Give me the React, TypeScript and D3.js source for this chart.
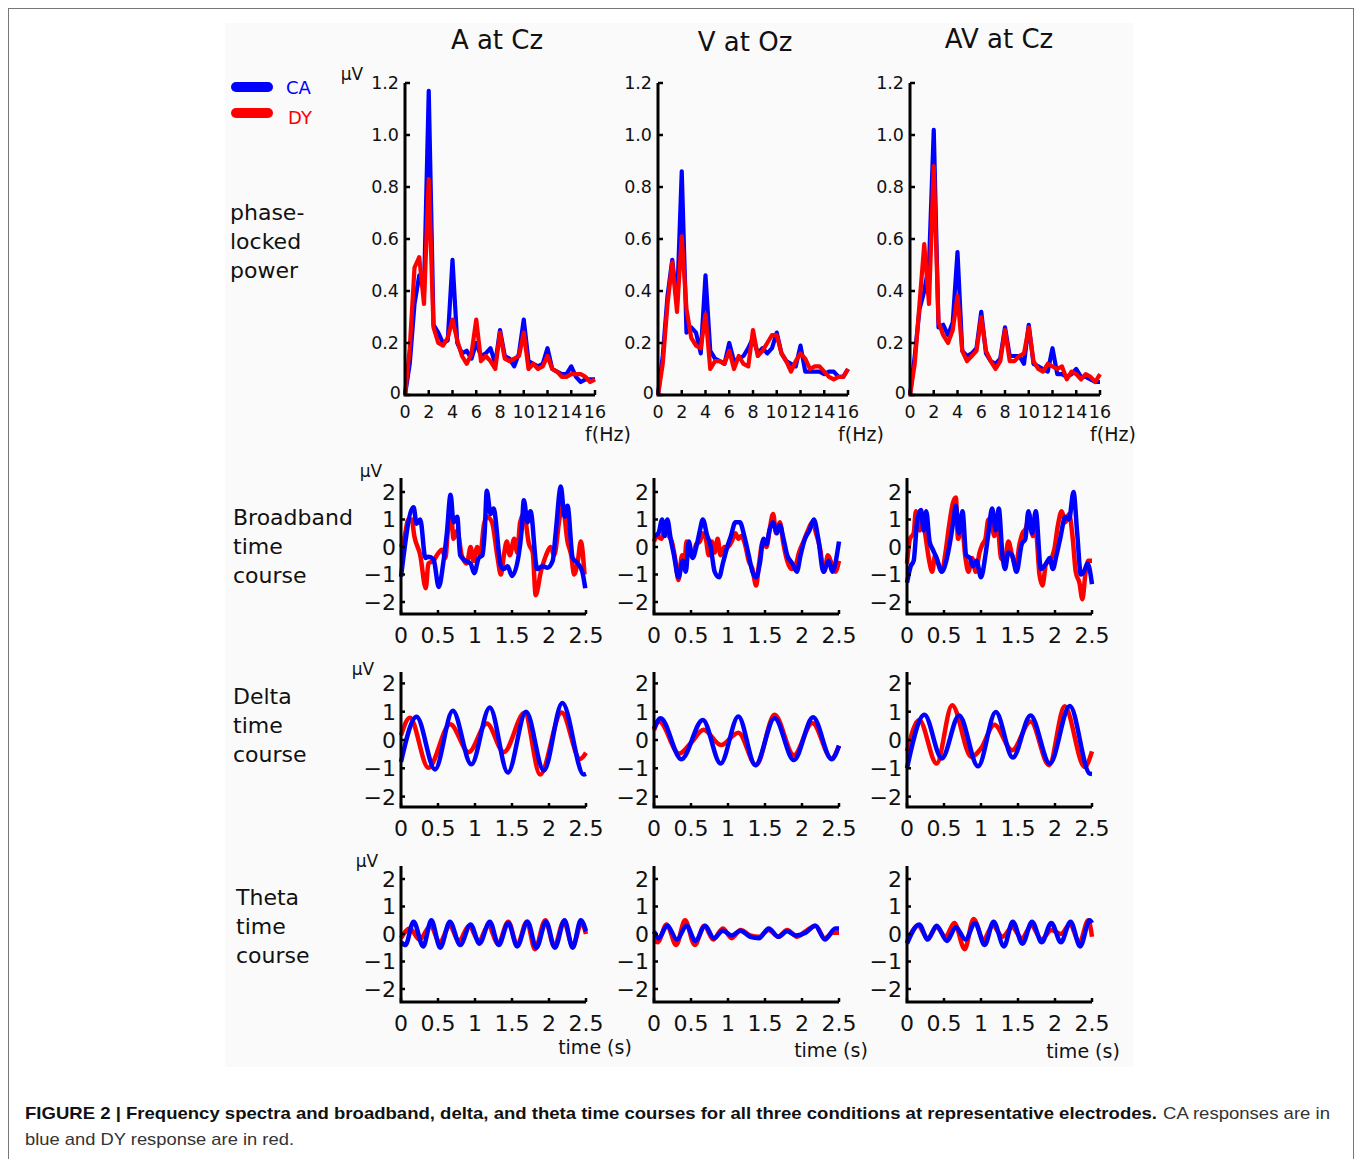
import React from "react";
import * as d3 from "d3";

// ---------- DATA ----------
const CONDITIONS = ["A at Cz", "V at Oz", "AV at Cz"];
const ROW_LABELS = [
  ["phase-", "locked", "power"],
  ["Broadband", "time", "course"],
  ["Delta", "time", "course"],
  ["Theta", "time", "course"],
];

const FREQ = [0, 0.4, 0.8, 1.2, 1.6, 2, 2.4, 2.8, 3.2, 3.6, 4, 4.4, 4.8, 5.2, 5.6, 6, 6.4, 6.8, 7.2, 7.6, 8, 8.4, 8.8, 9.2, 9.6, 10, 10.4, 10.8, 11.2, 11.6, 12, 12.4, 12.8, 13.2, 13.6, 14, 14.4, 14.8, 15.2, 15.6, 16];

const SPEC_A_CA = [0, 0.12, 0.35, 0.46, 0.4, 1.17, 0.27, 0.24, 0.2, 0.21, 0.52, 0.2, 0.16, 0.17, 0.14, 0.2, 0.15, 0.16, 0.18, 0.12, 0.25, 0.15, 0.14, 0.11, 0.16, 0.29, 0.13, 0.12, 0.11, 0.12, 0.18, 0.1, 0.09, 0.08, 0.08, 0.11, 0.07, 0.05, 0.06, 0.06, 0.06];
const SPEC_A_DY = [0, 0.18, 0.49, 0.53, 0.35, 0.83, 0.26, 0.2, 0.19, 0.22, 0.29, 0.21, 0.15, 0.12, 0.16, 0.29, 0.13, 0.15, 0.13, 0.1, 0.24, 0.14, 0.13, 0.14, 0.15, 0.24, 0.1, 0.12, 0.1, 0.11, 0.15, 0.1, 0.09, 0.07, 0.07, 0.08, 0.08, 0.08, 0.07, 0.05, 0.06];
const SPEC_V_CA = [0, 0.15, 0.38, 0.52, 0.35, 0.86, 0.24, 0.26, 0.24, 0.16, 0.46, 0.17, 0.14, 0.13, 0.12, 0.2, 0.13, 0.14, 0.15, 0.18, 0.22, 0.16, 0.18, 0.16, 0.18, 0.24, 0.16, 0.13, 0.12, 0.11, 0.19, 0.09, 0.09, 0.09, 0.09, 0.08, 0.09, 0.09, 0.07, 0.07, 0.1];
const SPEC_V_DY = [0, 0.12, 0.35, 0.51, 0.32, 0.61, 0.33, 0.22, 0.19, 0.18, 0.31, 0.1, 0.13, 0.13, 0.12, 0.17, 0.1, 0.15, 0.12, 0.11, 0.25, 0.15, 0.17, 0.2, 0.23, 0.23, 0.16, 0.13, 0.09, 0.13, 0.16, 0.14, 0.1, 0.11, 0.11, 0.09, 0.07, 0.06, 0.07, 0.07, 0.1];
const SPEC_AV_CA = [0, 0.15, 0.33, 0.4, 0.5, 1.02, 0.26, 0.27, 0.23, 0.28, 0.55, 0.17, 0.15, 0.16, 0.18, 0.32, 0.16, 0.13, 0.12, 0.14, 0.26, 0.15, 0.15, 0.15, 0.12, 0.27, 0.12, 0.11, 0.1, 0.09, 0.18, 0.08, 0.08, 0.07, 0.08, 0.1, 0.07, 0.07, 0.06, 0.05, 0.05];
const SPEC_AV_DY = [0, 0.12, 0.35, 0.58, 0.35, 0.88, 0.28, 0.23, 0.2, 0.25, 0.38, 0.17, 0.13, 0.15, 0.17, 0.3, 0.17, 0.13, 0.1, 0.13, 0.25, 0.13, 0.13, 0.15, 0.16, 0.26, 0.13, 0.1, 0.09, 0.12, 0.11, 0.1, 0.11, 0.06, 0.09, 0.08, 0.06, 0.08, 0.07, 0.05, 0.08];

// time courses: [time (s), µV]
const BROAD_A_CA = [[0, -1.08], [0.17, 1.45], [0.21, 0.85], [0.26, 1.0], [0.33, -0.4], [0.37, -0.35], [0.44, -0.45], [0.51, -1.45], [0.575, -0.5], [0.62, 0.5], [0.67, 1.9], [0.71, 0.9], [0.76, 1.1], [0.8, -0.3], [0.87, -0.5], [0.94, -0.6], [0.99, -0.95], [1.05, -0.4], [1.1, -0.3], [1.13, 0.5], [1.16, 2.05], [1.21, 1.2], [1.25, 1.4], [1.35, -0.7], [1.39, -0.8], [1.44, -0.7], [1.5, -1.05], [1.59, -0.3], [1.63, 0.6], [1.66, 1.7], [1.71, 0.9], [1.75, 1.3], [1.84, -0.8], [1.91, -0.7], [1.98, -0.75], [2.05, -0.5], [2.09, 0.5], [2.16, 2.2], [2.21, 1.1], [2.25, 1.5], [2.32, -0.4], [2.39, -0.6], [2.45, -0.9], [2.49, -1.5]];
const BROAD_A_DY = [[0, 0], [0.05, 0.4], [0.1, 1.0], [0.145, 1.0], [0.18, 0.4], [0.26, -0.3], [0.335, -1.5], [0.37, -0.6], [0.44, -0.5], [0.485, -0.3], [0.555, -0.1], [0.6, -0.4], [0.63, 0.5], [0.67, 1.5], [0.71, 0.3], [0.76, 0.6], [0.82, -0.3], [0.89, -0.6], [0.94, 0], [0.98, -0.5], [1.03, 0], [1.07, -0.3], [1.12, 0.8], [1.16, 1.1], [1.23, 0.9], [1.3, -0.3], [1.35, -1.0], [1.39, -0.3], [1.43, 0.2], [1.47, -0.3], [1.53, 0.3], [1.57, -0.2], [1.61, 0.9], [1.66, 1.2], [1.73, 0.1], [1.78, -0.2], [1.82, -1.75], [1.89, -0.9], [1.96, -0.3], [2.02, 0], [2.07, -0.3], [2.14, 1.0], [2.18, 1.6], [2.25, 0.2], [2.3, -0.3], [2.34, -1.0], [2.39, -0.5], [2.43, 0.2], [2.48, -1.0]];
const BROAD_V_CA = [[0, 0.4], [0.06, 0.5], [0.11, 1.0], [0.145, 0.4], [0.18, 1.0], [0.225, 0.3], [0.27, -0.3], [0.33, -1.1], [0.39, -0.5], [0.43, -0.9], [0.47, 0.2], [0.52, -0.4], [0.58, 0.1], [0.62, 0.6], [0.66, 1.0], [0.72, 0.4], [0.76, 0.1], [0.82, -0.9], [0.88, -1.1], [0.93, -0.6], [0.99, 0], [1.04, 0.4], [1.1, 0.9], [1.16, 0.9], [1.22, 0.4], [1.28, -0.3], [1.33, -0.9], [1.38, -1.1], [1.43, -0.6], [1.48, 0.3], [1.52, 0.1], [1.56, 0.6], [1.61, 0.9], [1.66, 0.5], [1.7, 0.8], [1.75, 0.3], [1.8, -0.3], [1.87, -0.6], [1.93, -0.9], [1.98, -0.3], [2.04, 0.3], [2.1, 0.6], [2.16, 1.0], [2.22, 0.3], [2.29, -0.9], [2.36, -0.5], [2.41, -0.9], [2.45, -0.6], [2.5, 0.2]];
const BROAD_V_DY = [[0, 0.2], [0.04, 0.4], [0.1, 0.3], [0.14, 0.6], [0.2, 0.4], [0.24, 0.2], [0.29, -0.5], [0.33, -1.2], [0.38, -0.3], [0.41, -0.6], [0.44, 0.2], [0.48, -0.1], [0.53, -0.2], [0.57, 0.1], [0.62, 0.2], [0.66, 0.5], [0.7, 0.3], [0.74, -0.3], [0.78, 0.2], [0.82, -0.2], [0.86, 0.3], [0.9, -0.3], [0.95, 0], [1.0, 0], [1.05, 0.2], [1.1, 0.5], [1.14, 0.3], [1.18, 0.4], [1.23, 0.1], [1.28, -0.5], [1.33, -0.8], [1.38, -1.4], [1.42, -0.6], [1.47, 0.2], [1.52, 0], [1.56, 0.6], [1.61, 1.2], [1.65, 0.5], [1.7, 0.9], [1.75, 0.1], [1.8, -0.5], [1.86, -0.8], [1.91, -0.7], [1.96, -0.2], [2.02, 0.2], [2.08, 0.6], [2.14, 0.9], [2.19, 0.5], [2.24, 0], [2.3, -0.9], [2.35, -0.3], [2.4, -0.6], [2.45, -0.9], [2.5, -0.5]];
const BROAD_AV_CA = [[0, -1.3], [0.05, -0.7], [0.09, -0.5], [0.14, 1.0], [0.19, 1.35], [0.225, 0.6], [0.26, 1.3], [0.305, 0.2], [0.35, -0.1], [0.4, -0.4], [0.47, -0.9], [0.54, -0.4], [0.59, 0.3], [0.63, 1.0], [0.66, 1.5], [0.7, 0.5], [0.75, 1.3], [0.8, -0.3], [0.85, -0.4], [0.89, -0.7], [0.94, -0.5], [1.0, -1.1], [1.06, -0.3], [1.1, 0.5], [1.15, 1.4], [1.2, 0.6], [1.24, 1.4], [1.29, -0.3], [1.325, -0.8], [1.37, -0.2], [1.42, -0.3], [1.48, -0.9], [1.55, 0.1], [1.6, 0.3], [1.64, 1.3], [1.69, 0.5], [1.74, 1.3], [1.81, -0.8], [1.88, -0.6], [1.93, -0.4], [1.97, -0.8], [2.02, -0.3], [2.07, 0.3], [2.14, 1.1], [2.19, 1.0], [2.25, 2.0], [2.3, 0.5], [2.35, -1.0], [2.39, -0.9], [2.44, -0.6], [2.5, -1.35]];
const BROAD_AV_DY = [[0, -0.6], [0.04, 0.3], [0.09, 0.5], [0.12, 1.3], [0.17, 0.6], [0.21, 1.1], [0.25, 0.4], [0.3, -0.5], [0.34, -0.9], [0.38, -0.3], [0.42, -0.6], [0.47, -0.9], [0.52, -0.2], [0.57, 0.8], [0.62, 1.6], [0.66, 1.8], [0.69, 0.3], [0.74, 0.8], [0.79, -0.4], [0.83, -0.9], [0.88, -0.4], [0.93, -0.9], [0.98, -0.2], [1.02, 0.1], [1.06, 0.3], [1.1, 1.0], [1.14, 0.9], [1.18, 0.4], [1.22, 0.9], [1.27, -0.4], [1.32, -0.5], [1.37, 0.2], [1.42, -0.3], [1.47, -0.7], [1.52, 0.1], [1.56, 0.5], [1.61, 0.7], [1.65, 1.2], [1.7, 0.4], [1.74, 0.6], [1.79, -1.0], [1.83, -1.4], [1.88, -0.6], [1.93, -0.5], [1.99, -0.1], [2.04, 0.8], [2.09, 1.3], [2.14, 0.9], [2.19, 1.2], [2.24, 0.3], [2.28, -0.9], [2.33, -1.3], [2.37, -1.9], [2.41, -1.0], [2.45, -0.5], [2.5, -0.5]];

const DELTA_A_CA = [[0, -0.78], [0.21, 0.82], [0.46, -1.04], [0.7, 1.03], [0.95, -0.86], [1.2, 1.15], [1.445, -1.15], [1.69, 1.0], [1.93, -1.08], [2.18, 1.31], [2.47, -1.22], [2.5, -1.2]];
const DELTA_A_DY = [[0, 0.17], [0.12, 0.79], [0.37, -0.98], [0.665, 0.56], [0.915, -0.43], [1.16, 0.58], [1.39, -0.43], [1.67, 0.96], [1.88, -1.22], [2.17, 0.97], [2.42, -0.67], [2.5, -0.45]];
const DELTA_V_CA = [[0, 0.4], [0.09, 0.77], [0.37, -0.68], [0.66, 0.71], [0.9, -0.83], [1.14, 0.83], [1.37, -0.89], [1.63, 0.77], [1.89, -0.71], [2.15, 0.8], [2.4, -0.68], [2.5, -0.2]];
const DELTA_V_DY = [[0, 0.35], [0.07, 0.65], [0.34, -0.48], [0.5, -0.1], [0.67, 0.36], [0.905, -0.18], [1.14, 0.26], [1.38, -0.89], [1.63, 0.89], [1.89, -0.54], [2.14, 0.6], [2.4, -0.65], [2.5, -0.2]];
const DELTA_AV_CA = [[0, -1.0], [0.235, 0.89], [0.47, -0.65], [0.705, 0.87], [0.96, -0.93], [1.2, 0.99], [1.43, -0.62], [1.67, 0.87], [1.93, -0.83], [2.2, 1.2], [2.47, -1.19], [2.5, -1.2]];
const DELTA_AV_DY = [[0, -0.4], [0.165, 0.71], [0.4, -0.83], [0.61, 1.23], [0.87, -0.6], [1.0, -0.3], [1.18, 0.54], [1.42, -0.36], [1.67, 0.65], [1.92, -0.89], [2.13, 1.19], [2.4, -0.95], [2.5, -0.4]];

const THETA_A_CA = [[0, -0.3], [0.06, -0.4], [0.17, 0.45], [0.3, -0.45], [0.41, 0.5], [0.53, -0.5], [0.66, 0.45], [0.8, -0.4], [0.94, 0.35], [1.06, -0.35], [1.2, 0.45], [1.32, -0.4], [1.45, 0.4], [1.57, -0.45], [1.71, 0.45], [1.83, -0.5], [1.96, 0.45], [2.08, -0.5], [2.21, 0.5], [2.32, -0.5], [2.43, 0.5], [2.5, 0.1]];
const THETA_A_DY = [[0, -0.15], [0.12, 0.2], [0.25, -0.2], [0.4, 0.3], [0.52, -0.3], [0.66, 0.3], [0.78, -0.25], [0.92, 0.3], [1.05, -0.25], [1.18, 0.3], [1.31, -0.35], [1.45, 0.45], [1.57, -0.4], [1.7, 0.45], [1.81, -0.55], [1.95, 0.5], [2.07, -0.45], [2.2, 0.45], [2.32, -0.45], [2.44, 0.4], [2.5, 0.0]];
const THETA_V_CA = [[0, 0.1], [0.06, -0.15], [0.18, 0.3], [0.31, -0.2], [0.44, 0.3], [0.56, -0.25], [0.69, 0.3], [0.81, -0.15], [0.93, 0.12], [1.05, -0.05], [1.17, 0.12], [1.3, -0.1], [1.42, -0.15], [1.55, 0.2], [1.68, -0.1], [1.8, 0.1], [1.92, -0.05], [2.05, 0.05], [2.18, 0.3], [2.31, -0.2], [2.45, 0.2], [2.5, 0.2]];
const THETA_V_DY = [[0, -0.2], [0.05, -0.3], [0.17, 0.35], [0.3, -0.4], [0.42, 0.5], [0.55, -0.4], [0.68, 0.3], [0.8, -0.2], [0.93, 0.2], [1.05, -0.15], [1.17, 0.15], [1.3, -0.05], [1.42, -0.1], [1.55, 0.15], [1.68, -0.1], [1.8, 0.15], [1.93, -0.1], [2.05, 0.1], [2.18, 0.3], [2.31, -0.15], [2.42, 0.05], [2.5, 0.05]];
const THETA_AV_CA = [[0, -0.35], [0.165, 0.35], [0.28, -0.2], [0.4, 0.3], [0.54, -0.25], [0.66, 0.25], [0.79, -0.2], [0.92, 0.4], [1.05, -0.4], [1.17, 0.45], [1.31, -0.45], [1.43, 0.45], [1.56, -0.35], [1.69, 0.45], [1.82, -0.3], [1.95, 0.4], [2.08, -0.3], [2.21, 0.45], [2.34, -0.45], [2.47, 0.5], [2.5, 0.4]];
const THETA_AV_DY = [[0, -0.3], [0.15, 0.3], [0.28, -0.15], [0.4, 0.25], [0.52, -0.1], [0.64, 0.4], [0.78, -0.55], [0.9, 0.55], [1.03, -0.2], [1.16, 0.3], [1.29, -0.1], [1.42, 0.25], [1.55, -0.15], [1.68, 0.3], [1.82, -0.2], [1.95, 0.15], [2.08, 0.0], [2.2, 0.35], [2.33, -0.3], [2.45, 0.5], [2.5, -0.1]];

const SPEC_Y_TICKS = [0, 0.2, 0.4, 0.6, 0.8, 1.0, 1.2];
const SPEC_Y_LABELS = ["0", "0.2", "0.4", "0.6", "0.8", "1.0", "1.2"];
const SPEC_X_TICKS = [0, 2, 4, 6, 8, 10, 12, 14, 16];
const TIME_X_TICKS = [0, 0.5, 1, 1.5, 2, 2.5];
const TIME_Y_TICKS = [-2, -1, 0, 1, 2];

const SPEC = [
  { ca: SPEC_A_CA, dy: SPEC_A_DY },
  { ca: SPEC_V_CA, dy: SPEC_V_DY },
  { ca: SPEC_AV_CA, dy: SPEC_AV_DY },
];
const TIME_ROWS = [
  [{ ca: BROAD_A_CA, dy: BROAD_A_DY }, { ca: BROAD_V_CA, dy: BROAD_V_DY }, { ca: BROAD_AV_CA, dy: BROAD_AV_DY }],
  [{ ca: DELTA_A_CA, dy: DELTA_A_DY }, { ca: DELTA_V_CA, dy: DELTA_V_DY }, { ca: DELTA_AV_CA, dy: DELTA_AV_DY }],
  [{ ca: THETA_A_CA, dy: THETA_A_DY }, { ca: THETA_V_CA, dy: THETA_V_DY }, { ca: THETA_AV_CA, dy: THETA_AV_DY }],
];

// ---------- LAYOUT ----------
const FONT = "'DejaVu Sans', Verdana, sans-serif";
const BLUE = "#0000ff";
const RED = "#ff0000";
const SPEC_COLS = [405, 658, 910];
const SPEC_W = 190;
const SPEC_ZERO = 395;
const SPEC_TOP = 83;
const TIME_COLS = [401, 654, 907];
const TIME_W = 185;
const TIME_LAYOUT = [
  { zero: 547, unit: 27.5, axisY: 614, top: 478 },
  { zero: 740, unit: 28.3, axisY: 807, top: 672 },
  { zero: 934, unit: 27.5, axisY: 1002, top: 866 },
];
const TITLE_X = [497, 745, 999];
const TITLE_Y = [49, 51, 48];
const TIME_LABEL_X = [595, 831, 1083];
const TIME_LABEL_Y = [1054, 1057, 1058];
const ROW_LABEL_POS = [
  { x: 230, y: 220 },
  { x: 233, y: 525 },
  { x: 233, y: 704 },
  { x: 236, y: 905 },
];
const MU_POS = [
  { x: 352, y: 80 },
  { x: 371, y: 477 },
  { x: 363, y: 675 },
  { x: 367, y: 867 },
];

function minusFmt(v: number) {
  return v < 0 ? "\u2212" + Math.abs(v) : String(v);
}

function SpectrumPanel({ col }: { col: number }) {
  const x0 = SPEC_COLS[col];
  const x = d3.scaleLinear().domain([0, 16]).range([x0, x0 + SPEC_W]);
  const y = d3.scaleLinear().domain([0, 1.2]).range([SPEC_ZERO, SPEC_TOP]);
  const line = d3
    .line<number>()
    .x((_, i) => x(FREQ[i]))
    .y((d) => y(d));
  const d = SPEC[col];
  return (
    <g>
      <path d={line(d.ca) || ""} fill="none" stroke={BLUE} strokeWidth={4.2} strokeLinejoin="round" />
      <path d={line(d.dy) || ""} fill="none" stroke={RED} strokeWidth={4.2} strokeLinejoin="round" />
      <path
        d={`M${x0},${y(1.2)}V${SPEC_ZERO}H${x(16)}`}
        fill="none"
        stroke="#000"
        strokeWidth={3}
      />
      {SPEC_Y_TICKS.map((t, i) => (
        <g key={"y" + i}>
          <line x1={x0} x2={x0 + 5} y1={y(t)} y2={y(t)} stroke="#000" strokeWidth={2.5} />
          <text
            x={t === 0 ? x0 - 4 : x0 - 6}
            y={y(t)}
            dy={t === 0 ? "0.2em" : "0.36em"}
            textAnchor="end"
            fontSize={17.5}
            fontFamily={FONT}
            fill="#111"
          >
            {SPEC_Y_LABELS[i]}
          </text>
        </g>
      ))}
      {SPEC_X_TICKS.map((t) => (
        <g key={"x" + t}>
          <line x1={x(t)} x2={x(t)} y1={SPEC_ZERO} y2={SPEC_ZERO - 5} stroke="#000" strokeWidth={2.5} />
          <text x={x(t)} y={SPEC_ZERO + 23} textAnchor="middle" fontSize={17.5} fontFamily={FONT} fill="#111">
            {t}
          </text>
        </g>
      ))}
      <text x={x0 + 203} y={441} textAnchor="middle" fontSize={19} fontFamily={FONT} fill="#111">
        f(Hz)
      </text>
    </g>
  );
}

function TimePanel({ row, col }: { row: number; col: number }) {
  const L = TIME_LAYOUT[row];
  const x0 = TIME_COLS[col];
  const x = d3.scaleLinear().domain([0, 2.5]).range([x0, x0 + TIME_W]);
  const y = d3
    .scaleLinear()
    .domain([-2, 2])
    .range([L.zero + 2 * L.unit, L.zero - 2 * L.unit]);
  const line = d3
    .line<number[]>()
    .x((p) => x(p[0]))
    .y((p) => y(p[1]))
    .curve(d3.curveMonotoneX);
  const d = TIME_ROWS[row][col];
  return (
    <g>
      <path d={line(d.dy as number[][]) || ""} fill="none" stroke={RED} strokeWidth={4.5} strokeLinejoin="round" />
      <path d={line(d.ca as number[][]) || ""} fill="none" stroke={BLUE} strokeWidth={4.5} strokeLinejoin="round" />
      <path d={`M${x0},${L.top}V${L.axisY}H${x(2.5)}`} fill="none" stroke="#000" strokeWidth={3} />
      {TIME_Y_TICKS.map((t) => (
        <g key={"y" + t}>
          <line x1={x0} x2={x0 + 4} y1={y(t)} y2={y(t)} stroke="#000" strokeWidth={2.5} />
          <text x={x0 - 5} y={y(t)} dy="0.36em" textAnchor="end" fontSize={22} fontFamily={FONT} fill="#111">
            {minusFmt(t)}
          </text>
        </g>
      ))}
      {TIME_X_TICKS.map((t) => (
        <g key={"x" + t}>
          <line x1={x(t)} x2={x(t)} y1={L.axisY} y2={L.axisY - 4} stroke="#000" strokeWidth={2.5} />
          <text x={x(t)} y={L.axisY + 29} textAnchor="middle" fontSize={22} fontFamily={FONT} fill="#111">
            {t}
          </text>
        </g>
      ))}
    </g>
  );
}

export default function App() {
  return (
    <svg
      width={1355}
      height={1159}
      style={{ position: "absolute", left: 0, top: 0, background: "#fff" }}
    >
      <rect x={8.5} y={8.5} width={1345} height={1200} fill="#fff" stroke="#777" strokeWidth={1} />
      <rect x={225} y={23} width={908} height={1044} fill="#fafafa" />

      {/* Legend */}
      <line x1={236} x2={268} y1={87} y2={87} stroke={BLUE} strokeWidth={10} strokeLinecap="round" />
      <text x={286} y={94} fontSize={18} fontFamily={FONT} fill={BLUE}>CA</text>
      <line x1={236} x2={268} y1={113} y2={113} stroke={RED} strokeWidth={10} strokeLinecap="round" />
      <text x={288} y={124} fontSize={18} fontFamily={FONT} fill={RED}>DY</text>

      {/* Titles */}
      {CONDITIONS.map((c, i) => (
        <text key={c} x={TITLE_X[i]} y={TITLE_Y[i]} textAnchor="middle" fontSize={26} fontFamily={FONT} fill="#111">
          {c}
        </text>
      ))}

      {/* Row labels */}
      {ROW_LABELS.map((lines, r) => (
        <text key={r} x={ROW_LABEL_POS[r].x} y={ROW_LABEL_POS[r].y} fontSize={22} fontFamily={FONT} fill="#111">
          {lines.map((s, k) => (
            <tspan key={k} x={ROW_LABEL_POS[r].x} dy={k === 0 ? 0 : 29}>
              {s}
            </tspan>
          ))}
        </text>
      ))}

      {/* µV labels */}
      {MU_POS.map((p, i) => (
        <text key={i} x={p.x} y={p.y} textAnchor="middle" fontSize={17} fontFamily={FONT} fill="#111">
          μV
        </text>
      ))}

      {[0, 1, 2].map((c) => (
        <SpectrumPanel key={"s" + c} col={c} />
      ))}
      {[0, 1, 2].map((r) =>
        [0, 1, 2].map((c) => <TimePanel key={`t${r}${c}`} row={r} col={c} />)
      )}

      {TIME_LABEL_X.map((xx, i) => (
        <text key={"tl" + i} x={xx} y={TIME_LABEL_Y[i]} textAnchor="middle" fontSize={19} fontFamily={FONT} fill="#111">
          time (s)
        </text>
      ))}

      {/* Caption */}
      <text x={25} y={1119} fontSize={17} fontFamily="'Liberation Sans', Arial, sans-serif" fontWeight="bold" fill="#111" textLength={1132} lengthAdjust="spacingAndGlyphs">
        FIGURE 2 | Frequency spectra and broadband, delta, and theta time courses for all three conditions at representative electrodes.
      </text>
      <text x={1163} y={1119} fontSize={17} fontFamily="'Liberation Sans', Arial, sans-serif" fill="#333" textLength={167} lengthAdjust="spacingAndGlyphs">
        CA responses are in
      </text>
      <text x={25} y={1145} fontSize={17} fontFamily="'Liberation Sans', Arial, sans-serif" fill="#333" textLength={269} lengthAdjust="spacingAndGlyphs">
        blue and DY response are in red.
      </text>
    </svg>
  );
}
